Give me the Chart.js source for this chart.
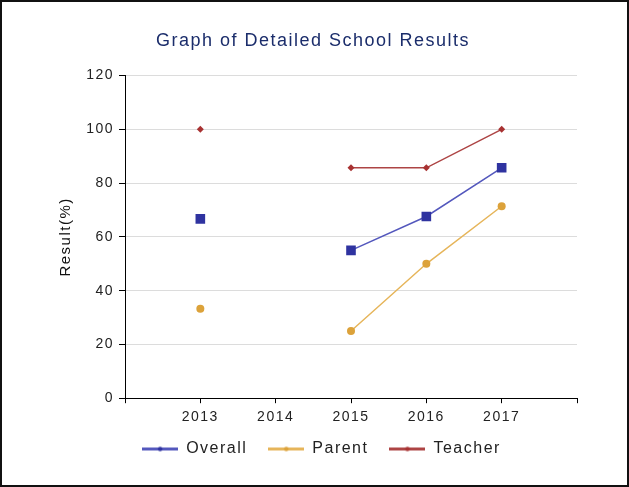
<!DOCTYPE html>
<html><head><meta charset="utf-8">
<script src="https://cdn.jsdelivr.net/npm/chart.js@4"></script>
<style>
html,body{margin:0;padding:0;background:#fff;}
#wrap{position:relative;width:629px;height:487px;}
#wrap canvas{position:absolute;left:0;top:0;}
#frame{position:absolute;left:0;top:0;width:629px;height:487px;box-sizing:border-box;border:2px solid #111;pointer-events:none;}
</style></head><body>
<div id="wrap"><canvas id="c" width="629" height="487"></canvas><div id="frame"></div></div>
<script>
const years = [2013, 2014, 2015, 2016, 2017];
const overall = [66.7, null, 55.0, 67.6, 85.7];
const parent = [33.3, null, 25.0, 50.0, 71.4];
const teacher = [100, null, 85.7, 85.7, 100];
const seriesNames = ['Overall', 'Parent', 'Teacher'];
const chartTitle = 'Graph of Detailed School Results';
const yTitle = 'Result(%)';
const yMin = 0, yMax = 120, yStep = 20;

const FONT = "'Liberation Sans', Arial, sans-serif";
const lineColors = ['#5458bd', '#e6b55a', '#ad4444'];
const markColors = ['#2f33a0', '#dca23a', '#a83232'];

function legendImg(lineColor, markColor) {
  const cv = document.createElement('canvas');
  cv.width = 36; cv.height = 9;
  const g = cv.getContext('2d');
  g.strokeStyle = lineColor; g.lineWidth = 3;
  g.beginPath(); g.moveTo(0, 4.5); g.lineTo(36, 4.5); g.stroke();
  g.fillStyle = markColor;
  g.beginPath(); g.arc(18, 4.5, 2.2, 0, Math.PI * 2); g.fill();
  return cv;
}
const legendImgs = lineColors.map((c, i) => legendImg(c, markColors[i]));

function pts(arr) { return years.map((yr, i) => ({ x: yr, y: arr[i] })); }

const tweaks = {
  id: 'tweaks',
  beforeUpdate(c) { c.ctx.letterSpacing = '1.5px'; },
  afterLayout(c) {
    if (c.titleBlock) { c.titleBlock.left += 24.5; c.titleBlock.right += 24.5; }
    if (c.legend) {
      c.legend.left += 33; c.legend.right += 33;
      c.legend.top -= 12; c.legend.bottom -= 12;
    }
  },
  beforeDraw(c) { c.ctx.letterSpacing = '1.5px'; }
};

new Chart(document.getElementById('c'), {
  type: 'line',
  data: {
    datasets: [
      { label: seriesNames[0], data: pts(overall), borderColor: lineColors[0], borderWidth: 1.5,
        pointStyle: 'rect', pointRadius: 6.8, pointBorderWidth: 0,
        pointBackgroundColor: markColors[0], pointBorderColor: markColors[0] },
      { label: seriesNames[1], data: pts(parent), borderColor: lineColors[1], borderWidth: 1.5,
        pointStyle: 'circle', pointRadius: 4, pointBorderWidth: 0,
        pointBackgroundColor: markColors[1], pointBorderColor: markColors[1] },
      { label: seriesNames[2], data: pts(teacher), borderColor: lineColors[2], borderWidth: 1.5,
        pointStyle: 'rectRot', pointRadius: 3.5, pointBorderWidth: 0,
        pointBackgroundColor: markColors[2], pointBorderColor: markColors[2] }
    ]
  },
  plugins: [tweaks],
  options: {
    responsive: false,
    devicePixelRatio: 1,
    animation: false,
    spanGaps: false,
    layout: { padding: { left: 0, right: 52, top: 0, bottom: 8 } },
    plugins: {
      title: { display: true, text: chartTitle, color: '#1b2d6b',
        font: { family: FONT, size: 18, weight: 'normal' }, padding: { top: 30, bottom: 24 } },
      legend: { position: 'bottom',
        labels: { usePointStyle: true, pointStyleWidth: 36, boxHeight: 9, padding: 21, color: '#222',
          font: { family: FONT, size: 16 },
          generateLabels(chart) {
            const items = Chart.defaults.plugins.legend.labels.generateLabels(chart);
            items.forEach((it, i) => { it.pointStyle = legendImgs[i]; });
            return items;
          } } },
      tooltip: { enabled: false }
    },
    scales: {
      x: { type: 'linear', min: years[0] - 1, max: years[years.length - 1] + 1,
        ticks: { stepSize: 1, autoSkip: false, color: '#222', padding: 6,
          font: { family: FONT, size: 14 },
          callback: v => years.includes(v) ? String(v) : '' },
        grid: { drawOnChartArea: false, drawTicks: true, tickLength: 5, tickColor: '#000' },
        border: { color: '#000', width: 1 } },
      y: { min: yMin, max: yMax,
        ticks: { stepSize: yStep, color: '#222', padding: 5, font: { family: FONT, size: 14 } },
        grid: { color: '#dcdcdc', lineWidth: 1, tickColor: '#000', tickLength: 6 },
        border: { color: '#000', width: 1 },
        title: { display: true, text: yTitle, color: '#111', font: { family: FONT, size: 15 },
          padding: { top: 57, bottom: 0 } },
        afterFit(s) { s.width = 125; } }
    }
  }
});
</script>
</body></html>
